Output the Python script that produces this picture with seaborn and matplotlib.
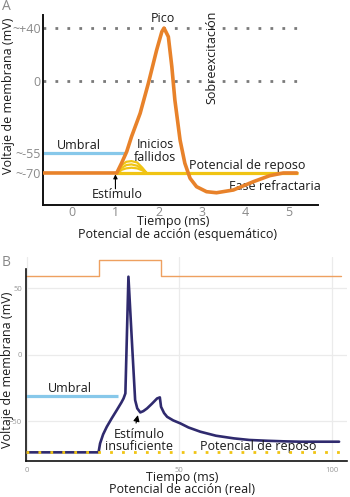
import matplotlib
matplotlib.use("Agg")
import matplotlib.pyplot as plt
from matplotlib.ticker import MultipleLocator, FixedLocator
import seaborn as sns

sns.set_style("white")
plt.rcParams["font.family"] = ["Open Sans", "DejaVu Sans"]

# =========================
# Panel A (esquemático)
# =========================
a_t = [-0.67, 1.03, 1.14, 1.26, 1.37, 1.57, 1.76, 1.95, 2.07, 2.12, 2.22, 2.30,
       2.37, 2.49, 2.60, 2.72, 2.87, 3.10, 3.33, 3.72, 4.18, 4.56, 4.87, 5.18]
a_v = [-70, -70, -62.6, -53.8, -42.5, -24.7, -1.8, 23.3, 37.2, 40, 33.4, 10.7,
       -14.6, -45, -62.6, -74, -80.4, -84.2, -85, -82.9, -76.6, -72, -70, -70]

bump_t = [1.05, 1.15, 1.25, 1.37, 1.50, 1.62, 1.72]
bump1_v = [-70, -64, -61.5, -61, -62, -66, -70]
bump2_v = [-70, -66, -64, -63.5, -64.5, -67, -70]
bump3_v = [-70, -67.5, -66.5, -66, -66.5, -68, -70]

a_yticks = [40, 0, -55, -70]
a_yticklabels = ["~+40", "0", "~-55", "~-70"]
a_xticks = [0, 1, 2, 3, 4, 5]

# =========================
# Panel B (real)
# =========================
b_t = [-0.3, 23.5, 24.0, 25.0, 26.2, 27.8, 29.5, 31.0, 31.7, 32.3, 33.3, 34.6,
       35.5, 36.2, 37.2, 38.2, 39.4, 41.0, 42.7, 43.6, 44.0, 45.0, 46.0, 48.0,
       50.3, 53.0, 56.9, 62.0, 67.9, 73.0, 78.8, 84.0, 89.8, 95.0, 102.4]
b_v = [-73.5, -73.5, -66.8, -60.0, -54.3, -48.0, -41.7, -36.0, -33.0, -29.2, 58.5, 3.2,
       -34.2, -40.5, -43.5, -42.5, -40.5, -37.0, -33.0, -32.2, -39.3, -44.0, -46.8, -49.5,
       -51.7, -54.8, -58.0, -61.0, -63.0, -64.2, -64.8, -65.2, -65.5, -65.5, -65.5]

stim_t = [-0.3, 23.5, 43.9, 103]
stim_v = [59, 71, 59, 59]

ORANGE = "#e8822a"
YELLOW = "#f0c414"
BLUE = "#87c8ea"
GRAY = "#7a7a7a"
PURPLE = "#2f2a6e"
TXT = "#1a1a1a"
FS = 9

fig = plt.figure(figsize=(3.5, 4.97), dpi=100)
W, H = 350, 497


def fx(px):
    return px / W


def fy(py):
    return 1 - py / H


# ---------- A ----------
axA = fig.add_axes([fx(43), fy(205), fx(318) - fx(43), fy(15) - fy(205)])
axA.set_xlim(-0.67, 5.67)
axA.set_ylim(-94.3, 49.9)

dots = (0, (1, 3.3))
axA.hlines([40, 0], -0.67, 5.2, color=GRAY, lw=2, linestyles=[dots], zorder=1)
axA.hlines(-55, -0.67, 1.24, color=BLUE, lw=2.3, zorder=2)
axA.hlines(-70, 1.0, 5.2, color=YELLOW, lw=2.3, zorder=2)

for bv in [bump1_v, bump2_v, bump3_v]:
    sns.lineplot(x=bump_t, y=bv, ax=axA, color=YELLOW, lw=1.6,
                 estimator=None, sort=False, zorder=3)

sns.lineplot(x=a_t, y=a_v, ax=axA, color=ORANGE, lw=2.6,
             estimator=None, sort=False, zorder=4)

for s in ["top", "right"]:
    axA.spines[s].set_visible(False)
for s in ["left", "bottom"]:
    axA.spines[s].set_color("#111111")
    axA.spines[s].set_linewidth(1.4)

axA.set_yticks(a_yticks)
axA.set_yticklabels(a_yticklabels)
axA.set_xticks(a_xticks)
axA.tick_params(axis="both", length=0, labelsize=FS, labelcolor="#8a8a8a")
axA.tick_params(axis="x", pad=0.5)
axA.tick_params(axis="y", pad=1.5)
axA.set_xlabel("")
axA.set_ylabel("Voltaje de membrana (mV)", fontsize=FS, color=TXT)
axA.yaxis.set_label_coords(-0.103, 0.574)

axA.text(2.1, 42, "Pico", ha="center", va="bottom", fontsize=FS, color=TXT)
axA.text(3.22, 18, "Sobreexcitación", ha="center", va="center", rotation=90,
         fontsize=FS, color=TXT)
axA.text(0.16, -49.5, "Umbral", ha="center", va="center", fontsize=FS, color=TXT)
axA.text(1.91, -53.3, "Inicios\nfallidos", ha="center", va="center", fontsize=FS,
         color=TXT, linespacing=0.95)
axA.text(4.03, -64.7, "Potencial de reposo", ha="center", va="center",
         fontsize=FS, color=TXT)
axA.text(4.68, -80.6, "Fase refractaria", ha="center", va="center",
         fontsize=FS, color=TXT)
axA.text(1.05, -86.7, "Estímulo", ha="center", va="center", fontsize=FS, color=TXT)
axA.annotate("", xy=(1.0, -71), xytext=(1.0, -82),
             arrowprops=dict(arrowstyle="-|>", color="black", lw=0.8,
                             mutation_scale=6, shrinkA=0, shrinkB=0))

fig.text(fx(173), fy(221), "Tiempo (ms)", ha="center", va="center",
         fontsize=FS, color=TXT)
fig.text(fx(178), fy(234.5), "Potencial de acción (esquemático)", ha="center",
         va="center", fontsize=FS, color=TXT)
fig.text(fx(6), fy(6), "A", ha="center", va="center", fontsize=10, color="#888888")

# ---------- B ----------
axB = fig.add_axes([fx(26), fy(461), fx(347) - fx(26), fy(257.4) - fy(461)])
axB.set_xlim(-0.3, 105)
axB.set_ylim(-80, 73)

axB.set_yticks([-50, 0, 50])
axB.set_xticks([0, 50, 100])
axB.yaxis.set_minor_locator(FixedLocator(range(-80, 61, 10)))
axB.xaxis.set_minor_locator(MultipleLocator(10))
axB.grid(True, which="major", color="#ebebeb", lw=0.9)

axB.hlines(-31, -0.3, 30, color=BLUE, lw=2.3, zorder=2)
sns.lineplot(x=stim_t, y=stim_v, ax=axB, color="#eea060", lw=1.0,
             drawstyle="steps-post", estimator=None, sort=False, zorder=2)
sns.lineplot(x=b_t, y=b_v, ax=axB, color=PURPLE, lw=1.9,
             estimator=None, sort=False, zorder=3)
axB.hlines(-73.5, -0.3, 105, color=YELLOW, lw=2, linestyles=[dots], zorder=4)

for s in ["top", "right"]:
    axB.spines[s].set_visible(False)
for s in ["left", "bottom"]:
    axB.spines[s].set_color("#111111")
    axB.spines[s].set_linewidth(1.2)
axB.spines["left"].set_bounds(-80, 64)

axB.tick_params(axis="both", which="both", direction="out", length=3,
                width=0.8, color="#222222", labelsize=5.5, labelcolor="#999999")
axB.tick_params(axis="y", which="both", pad=0)
axB.tick_params(axis="x", which="both", pad=1)
axB.set_xlabel("")
axB.set_ylabel("Voltaje de membrana (mV)", fontsize=FS, color=TXT)
axB.yaxis.set_label_coords(-0.037, 0.449)

axB.text(14.1, -25.4, "Umbral", ha="center", va="center", fontsize=FS, color=TXT)
axB.text(36.8, -64.7, "Estímulo\ninsuficiente", ha="center", va="center",
         fontsize=FS, color=TXT, linespacing=0.95)
axB.text(75.9, -69.3, "Potencial de reposo", ha="center", va="center",
         fontsize=FS, color=TXT)
axB.annotate("", xy=(36.4, -45.5), xytext=(35.8, -51.5),
             arrowprops=dict(arrowstyle="-|>", color="black", lw=0.8,
                             mutation_scale=9, shrinkA=0, shrinkB=0))

fig.text(fx(182), fy(477), "Tiempo (ms)", ha="center", va="center",
         fontsize=FS, color=TXT)
fig.text(fx(182), fy(489.5), "Potencial de acción (real)", ha="center",
         va="center", fontsize=FS, color=TXT)
fig.text(fx(6), fy(263), "B", ha="center", va="center", fontsize=10, color="#888888")

fig.savefig("out.png", dpi=100)
